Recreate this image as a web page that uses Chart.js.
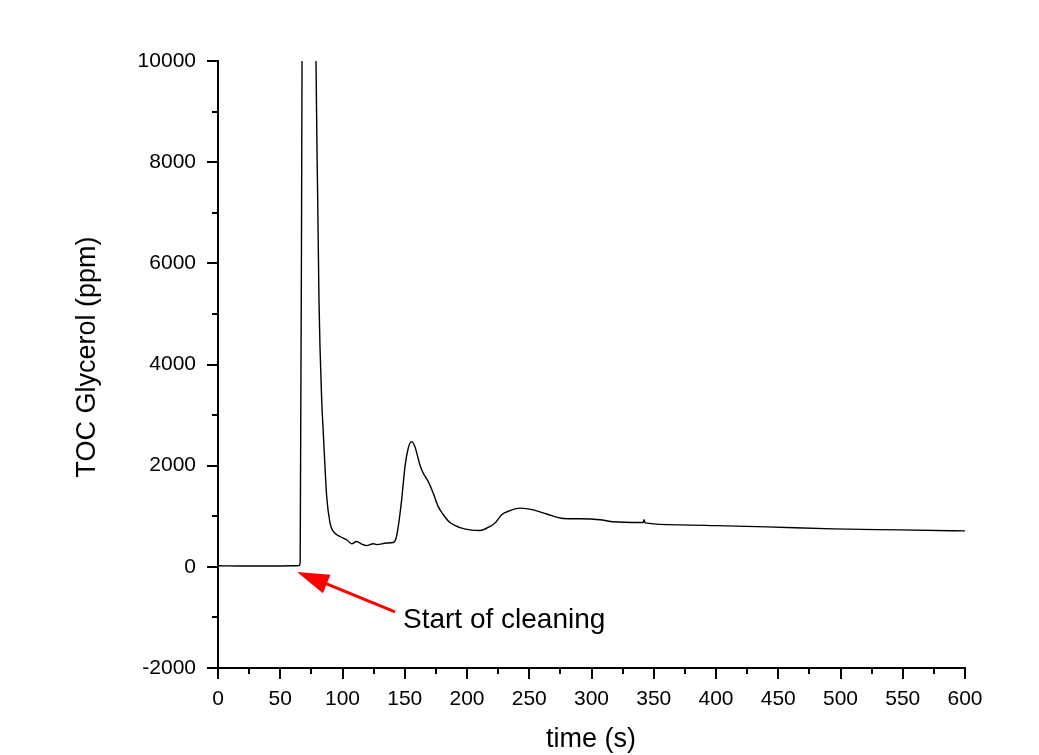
<!DOCTYPE html>
<html>
<head>
<meta charset="utf-8">
<script src="https://cdn.jsdelivr.net/npm/chart.js@4"></script>
<style>
  body { margin:0; background:#fff; }
  #wrap { width:1039px; height:755px; position:relative; }
</style>
</head>
<body>
<div id="wrap"><canvas id="toc"></canvas></div>
<script>
/* DATA */
const timeS = [0, 20, 40, 60, 65.3, 66, 67.5, 72, 78.7, 80.1, 81.1, 83.3, 84.6, 87.3, 90, 92.6, 98, 103.4,
  107.4, 111.4, 115.4, 119.4, 124.7, 127.5, 135.5, 140.8, 143, 144.8, 147.5, 150.2, 152.8, 155.5, 158.1,
  162.2, 164.9, 168.9, 172.9, 176.9, 181, 186.3, 194.4, 202.4, 210.4, 218.5, 222.5, 227.8, 234.5, 242.6,
  253.3, 264, 277.4, 290.8, 306.8, 317.5, 339, 341.5, 342.3, 343, 371, 400, 440.7, 494, 547.8, 600];
const tocPpm = [20, 15, 15, 20, 25, 100, 10000, 40000, 10000, 7250, 5280, 3300, 2640, 1390, 865, 700, 600, 535,
  455, 500, 450, 420, 455, 440, 470, 480, 565, 800, 1325, 1980, 2345, 2475, 2380,
  2015, 1850, 1685, 1455, 1190, 1030, 875, 775, 730, 717, 800, 865, 1030, 1110, 1160,
  1125, 1045, 955, 950, 930, 890, 875, 875, 930, 870, 830, 815, 790, 750, 730, 710];

const xTicks = [0, 50, 100, 150, 200, 250, 300, 350, 400, 450, 500, 550, 600];
const yTicks = [-2000, 0, 2000, 4000, 6000, 8000, 10000];

const xTitle = "time (s)";
const yTitle = "TOC Glycerol (ppm)";
const noteText = "Start of cleaning";
const arrowTail = { x: 142.2, y: -890 };
const arrowTip = { x: 63.5, y: -100 };
const notePos = { x: 148.6, y: -1205 };

const FONT = "'Liberation Sans', Arial, sans-serif";

/* TICKS, TITLES + ANNOTATION PLUGIN */
const extrasPlugin = {
  id: "extras",
  afterDraw(chart){
    const ctx = chart.ctx;
    const xs = chart.scales.x, ys = chart.scales.y;
    const area = chart.chartArea;
    ctx.save();
    ctx.strokeStyle = "#000";
    ctx.lineWidth = 2;
    // x ticks (major 50, minor 25), outward
    for(let v = 0; v <= 600; v += 25){
      const px = Math.round(xs.getPixelForValue(v));
      const len = v % 50 === 0 ? 11 : 6;
      ctx.beginPath();
      ctx.moveTo(px, area.bottom);
      ctx.lineTo(px, area.bottom + len);
      ctx.stroke();
    }
    // y ticks (major 2000, minor 1000), outward
    for(let v = -2000; v <= 10000; v += 1000){
      const py = Math.round(ys.getPixelForValue(v));
      const len = v % 2000 === 0 ? 11 : 6;
      ctx.beginPath();
      ctx.moveTo(area.left, py);
      ctx.lineTo(area.left - len, py);
      ctx.stroke();
    }

    // axis titles
    ctx.fillStyle = "#000";
    ctx.font = "27px " + FONT;
    ctx.textAlign = "center";
    ctx.textBaseline = "middle";
    ctx.fillText(xTitle, 591, 740);
    ctx.save();
    ctx.translate(88, 357);
    ctx.rotate(-Math.PI / 2);
    ctx.fillText(yTitle, 0, 0);
    ctx.restore();

    // red arrow
    const tx = xs.getPixelForValue(arrowTail.x), ty = ys.getPixelForValue(arrowTail.y);
    const hx = xs.getPixelForValue(arrowTip.x), hy = ys.getPixelForValue(arrowTip.y);
    const ang = Math.atan2(hy - ty, hx - tx);
    const headLen = 32, headW = 10;
    const bx = hx - headLen * Math.cos(ang), by = hy - headLen * Math.sin(ang);
    ctx.strokeStyle = "#ff0000";
    ctx.fillStyle = "#ff0000";
    ctx.lineWidth = 3;
    ctx.beginPath();
    ctx.moveTo(tx, ty);
    ctx.lineTo(bx + 2 * Math.cos(ang), by + 2 * Math.sin(ang));
    ctx.stroke();
    ctx.beginPath();
    ctx.moveTo(hx, hy);
    ctx.lineTo(bx + headW * Math.sin(ang), by - headW * Math.cos(ang));
    ctx.lineTo(bx - headW * Math.sin(ang), by + headW * Math.cos(ang));
    ctx.closePath();
    ctx.fill();

    // note text
    ctx.fillStyle = "#000";
    ctx.font = "28px " + FONT;
    ctx.textAlign = "left";
    ctx.textBaseline = "alphabetic";
    ctx.fillText(noteText, xs.getPixelForValue(notePos.x), ys.getPixelForValue(notePos.y));
    ctx.restore();
  }
};

const chart = new Chart(document.getElementById("toc"), {
  type: "line",
  data: {
    datasets: [{
      data: timeS.map((t, i) => ({ x: t, y: tocPpm[i] })),
      borderColor: "#000",
      borderWidth: 1.4,
      pointRadius: 0,
      cubicInterpolationMode: "monotone",
      fill: false
    }]
  },
  options: {
    responsive: true,
    maintainAspectRatio: false,
    animation: false,
    events: [],
    layout: { padding: { top: 61, right: 74, left: 0, bottom: 0 } },
    plugins: { legend: { display: false }, tooltip: { enabled: false } },
    scales: {
      x: {
        type: "linear",
        min: 0, max: 600,
        afterFit(scale){ scale.height = 87; },
        afterBuildTicks(scale){ scale.ticks = xTicks.map(v => ({ value: v })); },
        grid: { display: false, drawTicks: false },
        border: { display: true, color: "#000", width: 2 },
        ticks: { color: "#000", padding: 19, maxRotation: 0, font: { family: FONT, size: 21 },
          callback: v => String(v) }
      },
      y: {
        type: "linear",
        min: -2000, max: 10000,
        afterFit(scale){ scale.width = 218; },
        afterBuildTicks(scale){ scale.ticks = yTicks.map(v => ({ value: v })); },
        grid: { display: false, drawTicks: false },
        border: { display: true, color: "#000", width: 2 },
        ticks: { color: "#000", padding: 22, font: { family: FONT, size: 21 },
          callback: v => String(v) }
      }
    }
  },
  plugins: [extrasPlugin]
});
</script>
</body>
</html>
